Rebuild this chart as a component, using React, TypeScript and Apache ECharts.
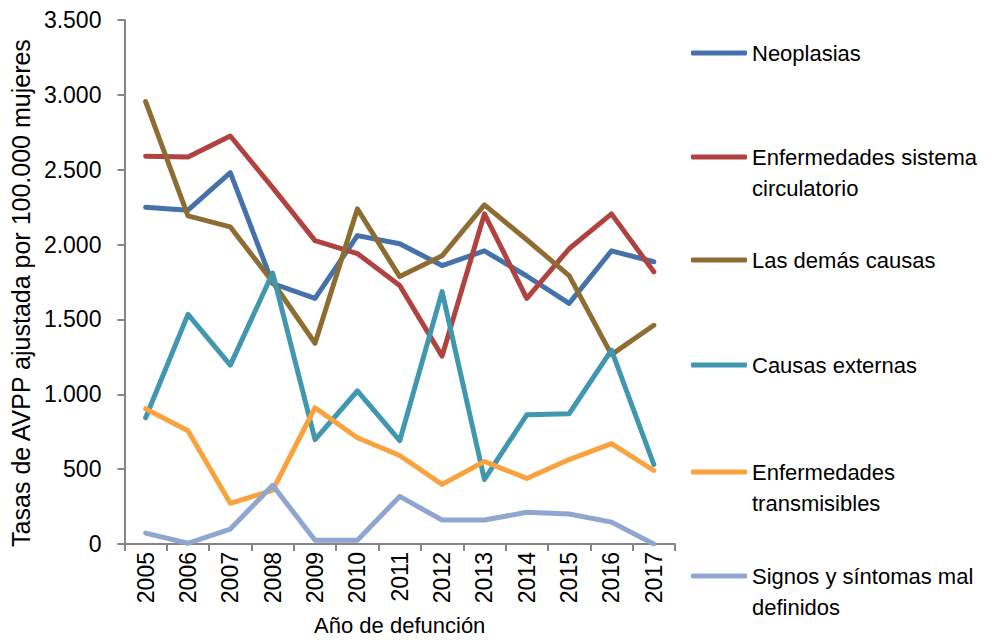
import React, { useEffect, useRef } from "react";
import * as echarts from "echarts";

const years = ["2005","2006","2007","2008","2009","2010","2011","2012","2013","2014","2015","2016","2017"];
const neoplasias = [2250, 2230, 2480, 1740, 1640, 2060, 2005, 1860, 1958, 1790, 1607, 1958, 1885];
const circulatorio = [2590, 2585, 2725, 2380, 2026, 1940, 1727, 1255, 2205, 1640, 1972, 2205, 1818];
const demas = [2955, 2192, 2118, 1750, 1341, 2238, 1786, 1925, 2265, 2032, 1793, 1265, 1461];
const externas = [843, 1534, 1195, 1810, 697, 1022, 690, 1686, 431, 863, 870, 1295, 531];
const transmisibles = [903, 757, 272, 359, 910, 710, 591, 398, 551, 438, 564, 671, 491];
const signos = [73, 5, 100, 392, 25, 25, 318, 160, 160, 212, 200, 146, 0];

const seriesNames = [
  "Neoplasias",
  "Enfermedades sistema circulatorio",
  "Las demás causas",
  "Causas externas",
  "Enfermedades transmisibles",
  "Signos y síntomas mal definidos",
];
const legendLines = [
  ["Neoplasias"],
  ["Enfermedades sistema", "circulatorio"],
  ["Las demás causas"],
  ["Causas externas"],
  ["Enfermedades", "transmisibles"],
  ["Signos y síntomas mal", "definidos"],
];
const seriesData = [neoplasias, circulatorio, demas, externas, transmisibles, signos];
const colors = ["#4672AB", "#B0433F", "#8E6D33", "#4197AE", "#F9A33F", "#8FA7D0"];
const legendCenters = [53, 157, 260, 365, 472, 576];

const FONT = "'Liberation Sans', Arial, sans-serif";

const fmt = (v: number) => String(v).replace(/\B(?=(\d{3})+(?!\d))/g, ".");

export default function App() {
  const ref = useRef<HTMLDivElement>(null);
  useEffect(() => {
    if (!ref.current) return;
    const chart = echarts.init(ref.current, null, { renderer: "svg" });
    const LH = 31;
    const legends = seriesNames.map((name, i) => {
      const lines = legendLines[i];
      const twoLine = lines.length > 1;
      const label = twoLine ? "{b| }\n{a|" + lines[0] + "}\n{a|" + lines[1] + "}" : "{a|" + lines[0] + "}";
      const h = twoLine ? LH * 3 : LH;
      return {
        data: [name],
        left: 691,
        top: legendCenters[i] - h / 2,
        padding: 0,
        icon: "roundRect",
        itemWidth: 56,
        itemHeight: 5,
        formatter: () => label,
        textStyle: {
          fontFamily: FONT,
          fontSize: 22,
          color: "#000",
          lineHeight: LH,
          rich: {
            a: { fontFamily: FONT, fontSize: 22, color: "#000", lineHeight: LH },
            b: { fontFamily: FONT, fontSize: 22, color: "#000", lineHeight: LH },
          },
        },
        selectedMode: false,
      };
    });
    chart.setOption({
      animation: false,
      color: colors,
      textStyle: { fontFamily: FONT },
      grid: { left: 120, right: 317, top: 20, bottom: 94, containLabel: false },
      legend: legends,
      xAxis: {
        type: "category",
        data: years,
        boundaryGap: true,
        name: "Año de defunción",
        nameLocation: "middle",
        nameGap: 70,
        nameTextStyle: { fontFamily: FONT, fontSize: 22, color: "#000" },
        axisLine: { lineStyle: { color: "#868686", width: 2 } },
        axisTick: { show: true, length: 7, lineStyle: { color: "#868686", width: 2 } },
        axisLabel: { rotate: 90, fontFamily: FONT, fontSize: 23, color: "#000", margin: 8 },
      },
      yAxis: {
        type: "value",
        min: 0,
        max: 3500,
        interval: 500,
        name: "Tasas de AVPP ajustada por 100.000 mujeres",
        nameLocation: "middle",
        nameGap: 82,
        nameTextStyle: { fontFamily: FONT, fontSize: 25, color: "#000", padding: [0, 22, 0, 0] },
        axisLine: { show: true, lineStyle: { color: "#868686", width: 2 } },
        axisTick: { show: true, length: 7, lineStyle: { color: "#868686", width: 2 } },
        splitLine: { show: false },
        axisLabel: { fontFamily: FONT, fontSize: 23, color: "#000", margin: 23, formatter: (v: number) => fmt(v) },
      },
      series: seriesNames.map((name, i) => ({
        name,
        type: "line",
        data: seriesData[i],
        showSymbol: false,
        symbol: "none",
        lineStyle: { width: 5, color: colors[i], cap: "round", join: "round" },
        itemStyle: { color: colors[i] },
      })),
    });
    return () => chart.dispose();
  }, []);
  return <div ref={ref} style={{ width: 992, height: 641, margin: -8 }} />;
}
